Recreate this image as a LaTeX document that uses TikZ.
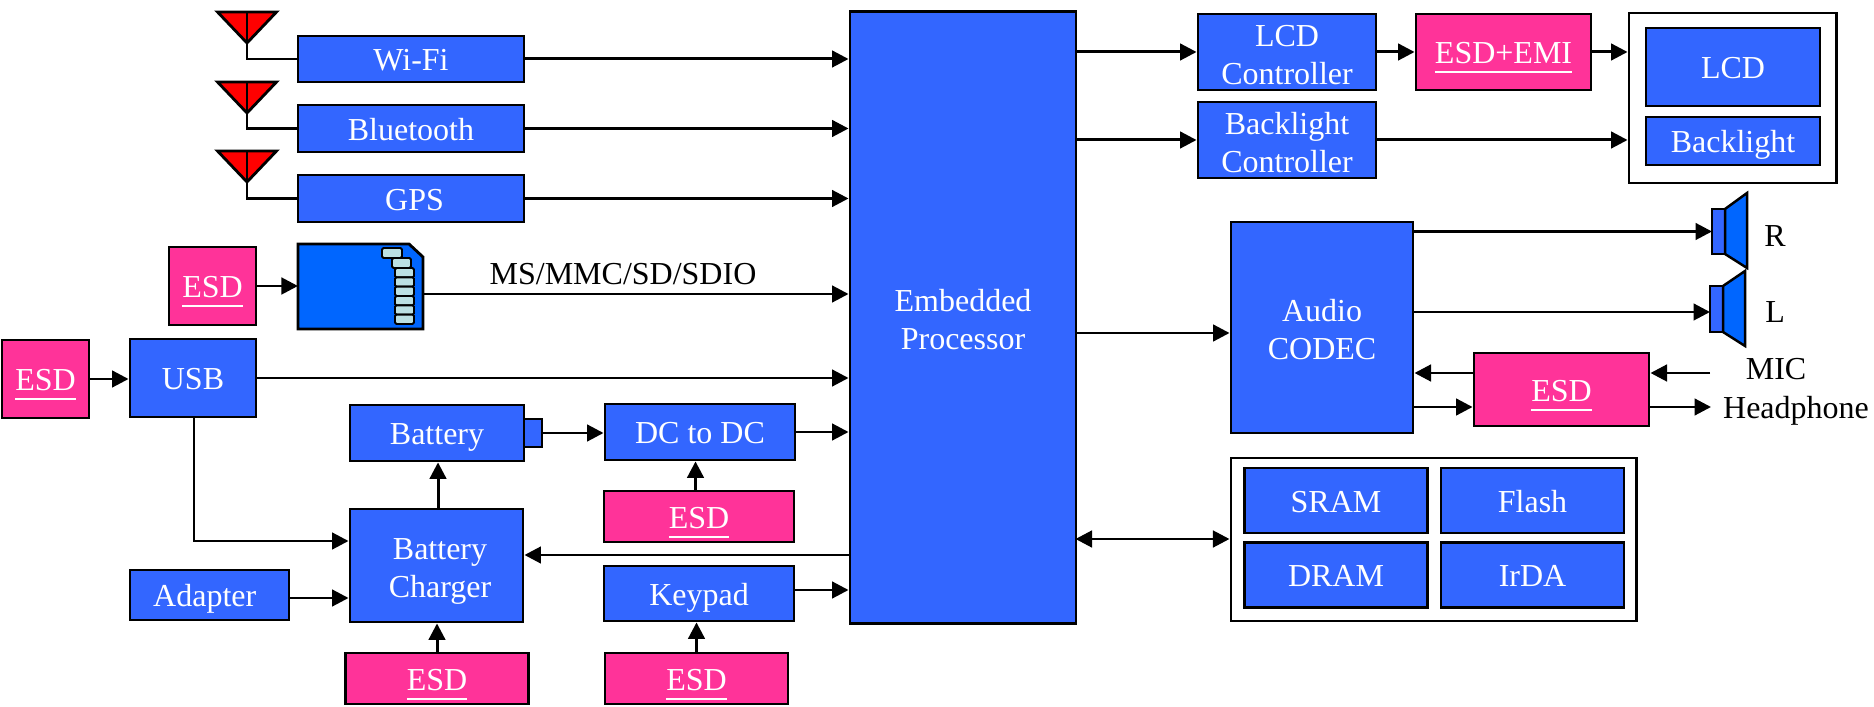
\documentclass[tikz,border=0pt]{standalone}
\usepackage{fontspec}
\setmainfont{Liberation Serif}
\usetikzlibrary{arrows.meta}
\definecolor{chipblue}{HTML}{3366FF}
\definecolor{esdpink}{HTML}{FF3399}
\definecolor{cardblue}{HTML}{0066FF}
\definecolor{pincolor}{HTML}{BBE0E3}
\newcommand{\esdmark}[1]{\setbox0\hbox{#1}\rlap{\rule[-2.7pt]{\wd0}{0.6pt}}\box0}

\begin{document}
\begin{tikzpicture}[
        x=0.01cm, y=-0.01cm,
        line width=0.8pt,
        base/.style={rectangle, draw, inner sep=0pt, align=center, text height=6.8pt, text depth=0pt, font=\fontsize{9.1}{10.85}\selectfont},
        block/.style={base, fill=chipblue, text=white},
        esd/.style={base, fill=esdpink, text=white},
        twoline/.style={text height=18.4pt},
        frame/.style={rectangle, draw, fill=white, inner sep=0pt},
        plain/.style={inner sep=0pt, font=\fontsize{9.1}{10.85}\selectfont},
        arrow/.style={line width=0.85pt, -{Triangle[length=4.7pt, width=4.7pt]}},
        biarrow/.style={line width=0.85pt, {Triangle[length=4.7pt, width=4.7pt]}-{Triangle[length=4.7pt, width=4.7pt]}},
        wire/.style={line width=0.65pt},
        pin/.style={draw, fill=pincolor, rounded corners=0.4pt, line width=0.55pt},
        cone/.style={draw, fill=cardblue, line width=0.7pt},
        antenna/.pic={
            \draw[fill=red] (-29.5,-31) -- (29.5,-31) -- (0,0) -- cycle;
            \draw (0,-31) -- (0,0);
        }
    ]
        \useasboundingbox (0,0) rectangle (1874,707);

        % left column
        \pic at (247,43) {antenna};
        \pic at (247,113) {antenna};
        \pic at (247,182) {antenna};
        \coordinate (ant1) at (247,43);
        \coordinate (ant2) at (247,113);
        \coordinate (ant3) at (247,182);

        \node [block, minimum width=2.26cm, minimum height=0.46cm] (wifi) at (411,59) {Wi-Fi};
        \node [block, minimum width=2.26cm, minimum height=0.47cm] (bt) at (411,128.5) {Bluetooth};
        \node [block, minimum width=2.26cm, minimum height=0.47cm] (gps) at (411,198.5) {\hspace*{2pt}GPS};

        \node [esd, minimum width=0.87cm, minimum height=0.78cm] (esdcard) at (212.5,286) {\esdmark{ESD}};

        % memory card
        \node [minimum width=1.25cm, minimum height=0.85cm, inner sep=0pt, outer sep=0pt] (card) at (360.5,286.5) {};
        \draw[fill=cardblue] (card.north west) -- (409,244) -- (423,257) -- (card.south east) -- (card.south west) -- cycle;
        \draw[pin] (382,248) rectangle (402,258);
        \draw[pin] (392,258) rectangle (411,268);
        \foreach \k in {0,...,5}
            \draw[pin] (395,268+9.33*\k) rectangle (414,268+9.33*\k+9.33);
        \node [plain] (sdlabel) at (623,274) {MS/MMC/SD/SDIO};

        \node [esd, minimum width=0.87cm, minimum height=0.78cm] (esdusb) at (45.5,379) {\esdmark{ESD}};
        \node [block, minimum width=1.26cm, minimum height=0.78cm] (usb) at (193,378) {USB};
        \node [block, minimum width=1.74cm, minimum height=0.56cm] (battery) at (437,433) {Battery};
        \node [block, minimum width=0.18cm, minimum height=0.28cm] (term) at (533,433) {};
        \node [block, minimum width=1.90cm, minimum height=0.56cm] (dcdc) at (700,432) {DC to DC};
        \node [esd, minimum width=1.90cm, minimum height=0.51cm] (esddc) at (699,516.5) {\esdmark{ESD}};
        \node [block, twoline, minimum width=1.73cm, minimum height=1.13cm] (charger) at (436.5,565.5) {\hspace*{2pt}Battery\\\hspace*{2pt}Charger};
        \node [block, minimum width=1.59cm, minimum height=0.50cm] (adapter) at (209.5,595) {Adapter\hspace*{2.7pt}};
        \node [block, minimum width=1.90cm, minimum height=0.55cm] (keypad) at (699,593.5) {Keypad};
        \node [esd, minimum width=1.83cm, minimum height=0.51cm] (esdchg) at (437,678.5) {\esdmark{ESD}};
        \node [esd, minimum width=1.83cm, minimum height=0.51cm] (esdkey) at (696.5,678.5) {\esdmark{ESD}};

        % processor
        \node [block, twoline, minimum width=2.26cm, minimum height=6.11cm] (proc) at (963,317.5) {Embedded\\Processor};

        % display side
        \node [block, twoline, minimum width=1.78cm, minimum height=0.76cm] (lcdctl) at (1287,52) {LCD\\Controller};
        \node [block, twoline, minimum width=1.78cm, minimum height=0.76cm] (blctl) at (1287,140) {Backlight\\Controller};
        \node [esd, minimum width=1.75cm, minimum height=0.76cm] (esdemi) at (1503.5,52) {\esdmark{ESD+EMI}};
        \node [frame, minimum width=2.075cm, minimum height=1.70cm] (panel) at (1732.75,98) {};
        \node [block, minimum width=1.74cm, minimum height=0.78cm] (lcd) at (1733,67) {LCD};
        \node [block, minimum width=1.74cm, minimum height=0.48cm] (blight) at (1733,141) {Backlight};

        % audio side
        \node [block, twoline, minimum width=1.82cm, minimum height=2.11cm] (codec) at (1322,327.5) {Audio\\CODEC};
        \node [esd, minimum width=1.75cm, minimum height=0.73cm] (esdaudio) at (1561.5,389.5) {\esdmark{ESD}};
        \node [block, minimum width=0.13cm, minimum height=0.45cm, outer sep=0pt] (spkr) at (1718.5,231.5) {};
        \draw[cone] (spkr.north east) -- ++(22,-16) -- ++(0,75) -- (spkr.south east) -- cycle;
        \node [block, minimum width=0.13cm, minimum height=0.46cm, outer sep=0pt] (spkl) at (1716.5,309) {};
        \draw[cone] (spkl.north east) -- ++(22,-15) -- ++(0,75) -- (spkl.south east) -- cycle;
        \node [plain] (rlabel) at (1775,236) {R};
        \node [plain] (llabel) at (1775,312) {L};
        \node [plain] (mic) at (1776,369) {MIC};
        \node [plain] (phone) at (1796,411) {Headphone};
        \coordinate (micin) at (1710,373);
        \coordinate (phoneout) at (1711,407);

        % memory
        \node [frame, minimum width=4.05cm, minimum height=1.63cm] (mem) at (1433.5,539.5) {};
        \node [block, minimum width=1.83cm, minimum height=0.65cm] (sram) at (1336,500.5) {SRAM};
        \node [block, minimum width=1.83cm, minimum height=0.65cm] (flash) at (1532.5,500.5) {Flash};
        \node [block, minimum width=1.83cm, minimum height=0.65cm] (dram) at (1336,575) {DRAM};
        \node [block, minimum width=1.83cm, minimum height=0.65cm] (irda) at (1532.5,575) {IrDA};

        % connectors
        \draw [wire] (ant1) |- (wifi.west);
        \draw [wire] (ant2) |- (bt.west);
        \draw [wire] (ant3) |- (gps.west);
        \draw [arrow] (wifi.east) -- (wifi -| proc.west);
        \draw [arrow] (bt.east) -- (bt -| proc.west);
        \draw [arrow] (gps.east) -- (gps -| proc.west);
        \draw [arrow] (esdcard) -- (card.west |- esdcard);
        \draw [arrow] ([yshift=-0.075cm]card.east) -- ([yshift=-0.075cm]card.east -| proc.west);
        \draw [arrow] (esdusb) -- (usb.west |- esdusb);
        \draw [arrow] (usb.east) -- (usb -| proc.west);
        \draw [arrow] ([xshift=0.01cm]usb.south) |- (charger.west |- 0,541);
        \draw [arrow] (term.east) -- (dcdc.west |- term);
        \draw [arrow] (dcdc.east) -- (dcdc -| proc.west);
        \draw [arrow] ([xshift=-0.035cm]esddc.north) -- ([xshift=-0.035cm]esddc.north |- dcdc.south);
        \draw [arrow] ([xshift=0.015cm]charger.north) -- ([xshift=0.015cm]charger.north |- battery.south);
        \draw [arrow] (proc.west |- 0,555) -- (charger.east |- 0,555);
        \draw [arrow] (adapter.east |- 0,598) -- (charger.west |- 0,598);
        \draw [arrow] (keypad.east |- 0,590) -- (proc.west |- 0,590);
        \draw [arrow] (esdchg.north) -- (esdchg.north |- charger.south);
        \draw [arrow] (esdkey.north) -- (esdkey.north |- keypad.south);

        \draw [arrow] (proc.east |- lcdctl) -- (lcdctl.west);
        \draw [arrow] (lcdctl.east) -- (esdemi.west);
        \draw [arrow] (esdemi.east) -- (panel.west |- esdemi);
        \draw [arrow] (proc.east |- blctl) -- (blctl.west);
        \draw [arrow] (blctl.east) -- (blctl -| panel.west);
        \draw [arrow] (proc.east |- 0,333) -- (codec.west |- 0,333);
        \draw [arrow] (codec.east |- spkr) -- (spkr.west);
        \draw [arrow] (codec.east |- 0,312) -- (spkl.west |- 0,312);
        \draw [arrow] (esdaudio.west |- 0,373) -- (codec.east |- 0,373);
        \draw [arrow] (codec.east |- 0,407) -- (esdaudio.west |- 0,407);
        \draw [arrow] (micin) -- (esdaudio.east |- micin);
        \draw [arrow] (esdaudio.east |- phoneout) -- (phoneout);
        \draw [biarrow] ([xshift=-0.02cm]proc.east |- 0,539) -- (mem.west |- 0,539);
    \end{tikzpicture}
\end{document}
